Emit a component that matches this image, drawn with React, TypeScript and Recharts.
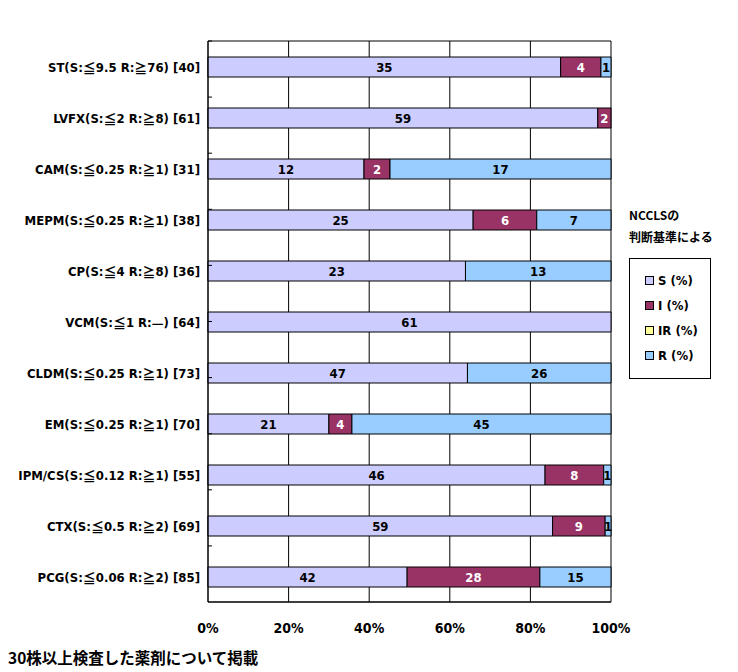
import { BarChart, Bar, XAxis, YAxis, CartesianGrid, LabelList } from "recharts";

const drugs = [
  "ST(S:≦9.5 R:≧76) [40]",
  "LVFX(S:≦2 R:≧8) [61]",
  "CAM(S:≦0.25 R:≧1) [31]",
  "MEPM(S:≦0.25 R:≧1) [38]",
  "CP(S:≦4 R:≧8) [36]",
  "VCM(S:≦1 R:—) [64]",
  "CLDM(S:≦0.25 R:≧1) [73]",
  "EM(S:≦0.25 R:≧1) [70]",
  "IPM/CS(S:≦0.12 R:≧1) [55]",
  "CTX(S:≦0.5 R:≧2) [69]",
  "PCG(S:≦0.06 R:≧2) [85]",
];
const sCounts = [35, 59, 12, 25, 23, 61, 47, 21, 46, 59, 42];
const iCounts = [4, 2, 2, 6, 0, 0, 0, 4, 8, 9, 28];
const irCounts = [0, 0, 0, 0, 0, 0, 0, 0, 0, 0, 0];
const rCounts = [1, 0, 17, 7, 13, 0, 26, 45, 1, 1, 15];

const percentTicks = [0, 0.2, 0.4, 0.6, 0.8, 1];
const seriesKeys = ["S", "I", "IR", "R"];
const seriesNames = ["S (%)", "I (%)", "IR (%)", "R (%)"];
const seriesColors = ["#CCCCFF", "#993366", "#FFFF99", "#99CCFF"];
const labelColors = ["#000000", "#FFFFFF", "#000000", "#000000"];

const data = drugs.map((name, i) => ({
  name,
  S: sCounts[i],
  I: iCounts[i],
  IR: irCounts[i],
  R: rCounts[i],
}));

// band boundaries for the little inner ticks on the category axis
const boundaryTicks = drugs.slice(1).map((_, i) => i + 1);

const narrow = "'DejaVu Sans Condensed', 'Noto Sans CJK JP', sans-serif";
const cjk = "'Noto Sans CJK JP', sans-serif";

// full-width symbols come from the CJK font, the rest from the condensed one
const splitSymbols = (s: string) =>
  s.split(/([≦≧—])/).filter((p) => p !== "");

const DrugTick = (props: any) => {
  const { x, y, payload } = props;
  return (
    <text
      x={x}
      y={y}
      textAnchor="end"
      dominantBaseline="central"
      fontFamily={narrow}
      fontWeight="bold"
      fontSize={13}
      fill="#000"
    >
      {splitSymbols(String(payload.value)).map((part, i) =>
        /[≦≧—]/.test(part) ? (
          <tspan key={i} fontFamily={cjk}>
            {part}
          </tspan>
        ) : (
          <tspan key={i}>{part}</tspan>
        )
      )}
    </text>
  );
};

const PercentTick = (props: any) => {
  const { x, y, payload } = props;
  return (
    <text
      x={x}
      y={y + 18}
      textAnchor="middle"
      dominantBaseline="central"
      fontFamily={narrow}
      fontWeight="bold"
      fontSize={14}
      fill="#000"
    >
      {Math.round(payload.value * 100) + "%"}
    </text>
  );
};

const App = () => {
  return (
    <div style={{ position: "relative", width: 730, height: 664 }}>
      <BarChart
        width={730}
        height={640}
        data={data}
        layout="vertical"
        stackOffset="expand"
        margin={{ top: 33, right: 127, bottom: 16, left: 0 }}
      >
        <CartesianGrid
          stroke="#000"
          strokeOpacity={1}
          horizontalCoordinatesGenerator={({ offset }: any) => [
            offset.top,
            offset.top + offset.height,
          ]}
        />
        <XAxis
          type="number"
          domain={[0, 1]}
          ticks={percentTicks}
          height={30}
          tickLine={false}
          axisLine={{ stroke: "#000" }}
          tick={<PercentTick />}
        />
        <YAxis
          yAxisId="cat"
          type="category"
          dataKey="name"
          width={200}
          tickLine={false}
          axisLine={{ stroke: "#000" }}
          tick={<DrugTick />}
        />
        <YAxis
          yAxisId="bounds"
          type="number"
          domain={[0, drugs.length]}
          ticks={boundaryTicks}
          reversed
          mirror
          tickFormatter={() => ""}
          axisLine={false}
          tickLine={{ stroke: "#000" }}
          tickSize={4}
        />
        {seriesKeys.map((key, i) => (
          <Bar
            key={key}
            yAxisId="cat"
            dataKey={key}
            name={seriesNames[i]}
            stackId="a"
            fill={seriesColors[i]}
            stroke="#000"
            strokeWidth={1}
            barSize={20}
            isAnimationActive={false}
          >
            <LabelList
              dataKey={key}
              position="center"
              formatter={(v: any) => (v ? v : "")}
              fill={labelColors[i]}
              fontFamily={narrow}
              fontWeight="bold"
              fontSize={13}
            />
          </Bar>
        ))}
      </BarChart>

      <div
        style={{
          position: "absolute",
          left: 621,
          top: 196,
          fontFamily: cjk,
          fontWeight: "bold",
          fontSize: 12,
          lineHeight: "22px",
          color: "#000",
          whiteSpace: "nowrap",
        }}
      >
        <div>NCCLSの</div>
        <div>判断基準による</div>
      </div>

      <div
        style={{
          position: "absolute",
          left: 621,
          top: 250,
          width: 82,
          height: 121,
          border: "1px solid #000",
          boxSizing: "border-box",
          paddingTop: 9,
        }}
      >
        {seriesNames.map((n, i) => (
          <div
            key={n}
            style={{
              display: "flex",
              alignItems: "center",
              height: 25,
              paddingLeft: 15,
              fontFamily: narrow,
              fontWeight: "bold",
              fontSize: 13,
              color: "#000",
            }}
          >
            <span
              style={{
                width: 7,
                height: 7,
                border: "1px solid #000",
                background: seriesColors[i],
                marginRight: 4,
              }}
            />
            {n}
          </div>
        ))}
      </div>

      <div
        style={{
          position: "absolute",
          left: 0,
          top: 639,
          fontFamily: cjk,
          fontWeight: "bold",
          fontSize: 15.5,
          lineHeight: "20px",
          color: "#000",
          whiteSpace: "nowrap",
        }}
      >
        30株以上検査した薬剤について掲載
      </div>
    </div>
  );
};

export default App;
